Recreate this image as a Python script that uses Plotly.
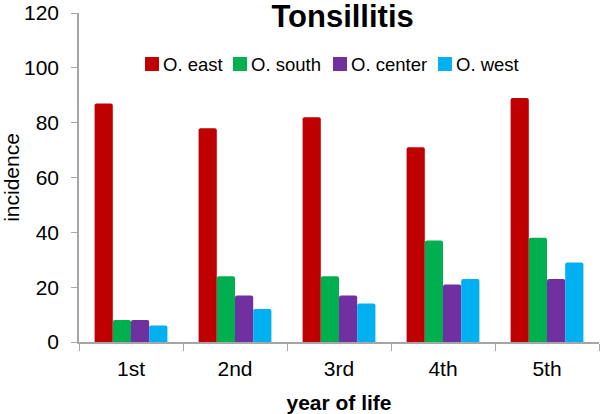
import plotly.graph_objects as go

# year of life categories and incidence per region
years = ["1st", "2nd", "3rd", "4th", "5th"]
east = [87, 78, 82, 71, 89]
south = [8, 24, 24, 37, 38]
center = [8, 17, 17, 21, 23]
west = [6, 12, 14, 23, 29]

series = [
    ("O. east", east, "#C00000"),
    ("O. south", south, "#00B050"),
    ("O. center", center, "#7030A0"),
    ("O. west", west, "#00B0F0"),
]

FONT = "Liberation Sans, Arial, Helvetica, sans-serif"
AXIS = "#A6A6A6"
W, H = 600, 414
L, R, T, B = 79, 1, 13, 72
pw, ph = W - L - R, H - T - B

def px(x):  # pixel x -> paper x
    return (x - L) / pw

def py(y):  # pixel y -> paper y
    return (H - B - y) / ph

fig = go.Figure()
for name, vals, col in series:
    fig.add_trace(go.Bar(x=years, y=vals, name=name, marker_color=col,
                         marker_line_width=0, showlegend=False))

# legend drawn by hand: small squares with the label right next to them
leg_x = [145, 233, 333, 438]
for (name, vals, col), lx in zip(series, leg_x):
    fig.add_shape(type="rect", xref="paper", yref="paper",
                  x0=px(lx), x1=px(lx + 14), y0=py(71), y1=py(57),
                  fillcolor=col, line_width=0)
    fig.add_annotation(text=name, xref="paper", yref="paper",
                       x=px(lx + 16), y=py(64), xanchor="left", yanchor="middle",
                       showarrow=False, font=dict(size=18.5, color="black"))

fig.update_layout(
    width=W, height=H,
    margin=dict(l=L, r=R, t=T, b=B),
    paper_bgcolor="white", plot_bgcolor="white",
    font=dict(family=FONT, color="black"),
    barmode="group", bargap=0.3, bargroupgap=0, barcornerradius=2,
    title=dict(text="<b>Tonsillitis</b>", font=dict(size=31, color="black"),
               x=0.571, xanchor="center", y=0.962, yanchor="middle"),
)

fig.update_xaxes(
    automargin=False,
    showline=True, linecolor=AXIS, linewidth=1.5,
    ticks="outside", tickson="boundaries", ticklen=7, tickcolor=AXIS,
    tickfont=dict(size=21), showgrid=False, ticklabelstandoff=7,
    title=dict(text="<b>year of life</b>", font=dict(size=21), standoff=22),
)
fig.update_yaxes(
    automargin=False,
    range=[0, 120], dtick=20, showline=True, linecolor=AXIS, linewidth=1.5,
    ticks="outside", ticklen=6, tickcolor=AXIS, tickfont=dict(size=21),
    showgrid=False, zeroline=False, ticklabelstandoff=8,
    title=dict(text="incidence", font=dict(size=21), standoff=6),
)

# the page's default body margin would push the chart 8px in
fig.write_html("out.html", config={"displayModeBar": False},
               post_script="document.body.style.margin='0';")
